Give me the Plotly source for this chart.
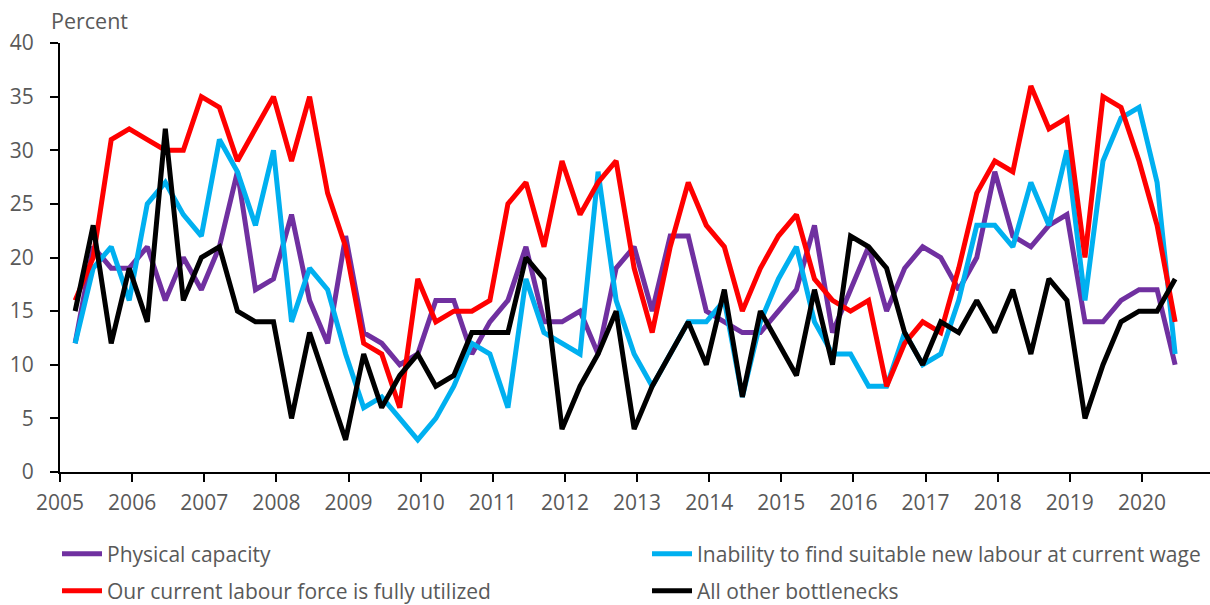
import plotly.graph_objects as go

years = list(range(2005, 2021))
quarters = [(y, q) for y in range(2005, 2021) for q in range(1, 5)][:62]  # 2005Q1 .. 2020Q2

physical_capacity = [12, 21, 19, 19, 21, 16, 20, 17, 21, 28, 17, 18, 24, 16, 12, 22, 13, 12, 10, 11,
                     16, 16, 11, 14, 16, 21, 14, 14, 15, 11, 19, 21, 15, 22, 22, 15, 14, 13, 13, 15,
                     17, 23, 13, 17, 21, 15, 19, 21, 20, 17, 20, 28, 22, 21, 23, 24, 14, 14, 16, 17,
                     17, 10]
inability_new_labour = [12, 19, 21, 16, 25, 27, 24, 22, 31, 28, 23, 30, 14, 19, 17, 11, 6, 7, 5, 3,
                        5, 8, 12, 11, 6, 18, 13, 12, 11, 28, 16, 11, 8, 11, 14, 14, 16, 7, 14, 18,
                        21, 14, 11, 11, 8, 8, 13, 10, 11, 16, 23, 23, 21, 27, 23, 30, 16, 29, 33, 34,
                        27, 11]
labour_fully_utilized = [16, 20, 31, 32, 31, 30, 30, 35, 34, 29, 32, 35, 29, 35, 26, 21, 12, 11, 6, 18,
                         14, 15, 15, 16, 25, 27, 21, 29, 24, 27, 29, 19, 13, 21, 27, 23, 21, 15, 19, 22,
                         24, 18, 16, 15, 16, 8, 12, 14, 13, 19, 26, 29, 28, 36, 32, 33, 20, 35, 34, 29,
                         23, 14]
other_bottlenecks = [15, 23, 12, 19, 14, 32, 16, 20, 21, 15, 14, 14, 5, 13, 8, 3, 11, 6, 9, 11,
                     8, 9, 13, 13, 13, 20, 18, 4, 8, 11, 15, 4, 8, 11, 14, 10, 17, 7, 15, 12,
                     9, 17, 10, 22, 21, 19, 13, 10, 14, 13, 16, 13, 17, 11, 18, 16, 5, 10, 14, 15,
                     15, 18]

x = [y + (q - 1) * 0.25 + 0.21 for (y, q) in quarters]

FONT = "Open Sans"
GRAY = "#595959"
W, H = 1210, 605

# (name, values, colour, legend id, legend left px, legend centre-y px)
series = [
    ("Physical capacity", physical_capacity, "#7030A0", "legend", 57, 554),
    ("Inability to find suitable new labour at current wage", inability_new_labour, "#00B0F0", "legend2", 647, 554),
    ("Our current labour force is fully utilized", labour_fully_utilized, "#FF0000", "legend3", 57, 591),
    ("All other bottlenecks", other_bottlenecks, "#000000", "legend4", 647, 591),
]

fig = go.Figure()
legends = {}
for name, vals, color, lg, lx, ly in series:
    fig.add_trace(go.Scatter(x=x, y=vals, mode="lines", name=name,
                             line=dict(color=color, width=5), legend=lg))
    legends[lg] = dict(xref="container", yref="container", x=lx / W, y=1 - ly / H,
                       xanchor="left", yanchor="middle", orientation="h",
                       font=dict(family=FONT, size=21, color=GRAY),
                       bgcolor="rgba(0,0,0,0)", itemwidth=40)

left, right, top, bottom = 60, 0, 43, 133
plot_w = W - left - right
xmax = 2005 + plot_w / 72.13

axis_common = dict(showgrid=False, zeroline=False, automargin=False,
                   showline=True, linecolor="black", linewidth=2,
                   ticks="outside", ticklen=8, tickwidth=2, tickcolor="black",
                   tickfont=dict(family=FONT, size=21, color=GRAY))

fig.update_layout(
    width=W, height=H,
    margin=dict(l=left, r=right, t=top, b=bottom, autoexpand=False),
    plot_bgcolor="white", paper_bgcolor="white",
    font=dict(family=FONT, size=20, color=GRAY),
    showlegend=True,
    **legends,
    xaxis=dict(range=[2005, xmax], tickmode="array", tickvals=years,
               ticktext=[str(y) for y in years], ticklabelstandoff=3, **axis_common),
    yaxis=dict(range=[0, 40], tickvals=[0, 5, 10, 15, 20, 25, 30, 35, 40],
               ticklabelstandoff=12, **axis_common),
    annotations=[dict(text="Percent", xref="paper", yref="paper",
                      x=(49 - left) / plot_w, y=(H - bottom - 21) / (H - top - bottom),
                      xanchor="left", yanchor="middle", showarrow=False,
                      font=dict(family=FONT, size=21.5, color=GRAY))],
)

fig.write_html("out.html", config={"displayModeBar": False},
               post_script="document.body.style.margin='0';document.body.style.padding='0';")
